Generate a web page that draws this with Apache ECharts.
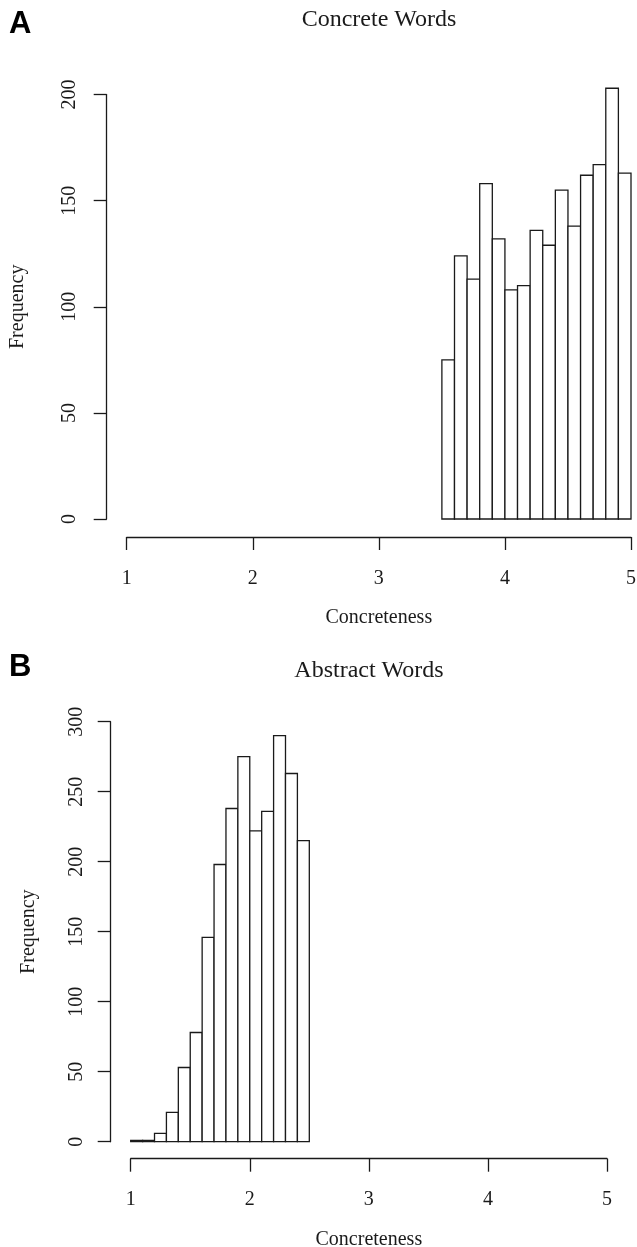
<!DOCTYPE html>
<html>
<head>
<meta charset="utf-8">
<title>Concreteness histograms</title>
<script src="https://cdn.jsdelivr.net/npm/echarts@6/dist/echarts.min.js"></script>
<style>
  html, body { margin: 0; padding: 0; background: #fff; }
  #chart { width: 637px; height: 1247px; }
</style>
</head>
<body>
<div id="chart"></div>
<script>
// Histogram bins (lower edges, width 0.1) and counts
const binWidth = 0.1;

const concreteBinStart = [3.5, 3.6, 3.7, 3.8, 3.9, 4.0, 4.1, 4.2, 4.3, 4.4, 4.5, 4.6, 4.7, 4.8, 4.9];
const concreteCounts   = [75, 124, 113, 158, 132, 108, 110, 136, 129, 155, 138, 162, 167, 203, 163];

const abstractBinStart = [1.0, 1.1, 1.2, 1.3, 1.4, 1.5, 1.6, 1.7, 1.8, 1.9, 2.0, 2.1, 2.2, 2.3, 2.4];
const abstractCounts   = [1, 1, 6, 21, 53, 78, 146, 198, 238, 275, 222, 236, 290, 263, 215];

// Axis tick settings
const xTicks = [1, 2, 3, 4, 5];
const concreteYMax = 200, concreteYStep = 50;
const abstractYMax = 300, abstractYStep = 50;

const panelTitles = ['Concrete Words', 'Abstract Words'];
const panelLetters = ['A', 'B'];
const xTitle = 'Concreteness';
const yTitle = 'Frequency';

const serif = 'Liberation Serif';
const ink = '#1a1a1a';

function binsToData(starts, counts) {
  return starts.map((s, i) => [s, +(s + binWidth).toFixed(2), counts[i]]);
}

function renderBin(params, api) {
  const lo = api.coord([api.value(0), api.value(2)]);
  const hi = api.coord([api.value(1), 0]);
  return {
    type: 'rect',
    shape: { x: lo[0], y: lo[1], width: hi[0] - lo[0], height: hi[1] - lo[1] },
    style: { fill: '#fff', stroke: ink, lineWidth: 1.3 }
  };
}

function xAxisFor(gridIndex, offset, labelMargin, nameGap) {
  return {
    gridIndex: gridIndex,
    type: 'value',
    min: xTicks[0],
    max: xTicks[xTicks.length - 1],
    interval: 1,
    position: 'bottom',
    offset: offset,
    name: xTitle,
    nameLocation: 'middle',
    nameGap: nameGap,
    nameTextStyle: { fontFamily: serif, fontSize: 20, color: ink },
    axisLine: { show: true, onZero: false, lineStyle: { color: ink, width: 1.3 } },
    axisTick: { show: true, length: 13, lineStyle: { color: ink, width: 1.3 } },
    axisLabel: { margin: labelMargin, fontFamily: serif, fontSize: 20, color: ink },
    splitLine: { show: false }
  };
}

function yAxisFor(gridIndex, max, step, offset, labelMargin, nameGap) {
  return {
    gridIndex: gridIndex,
    type: 'value',
    min: 0,
    max: max,
    interval: step,
    position: 'left',
    offset: offset,
    name: yTitle,
    nameLocation: 'middle',
    nameRotate: 90,
    nameGap: nameGap,
    nameTextStyle: { fontFamily: serif, fontSize: 20, color: ink },
    axisLine: { show: true, lineStyle: { color: ink, width: 1.3 } },
    axisTick: { show: true, length: 13, lineStyle: { color: ink, width: 1.3 } },
    axisLabel: { rotate: 90, margin: labelMargin, fontFamily: serif, fontSize: 20, color: ink },
    splitLine: { show: false }
  };
}

const chart = echarts.init(document.getElementById('chart'), null, { renderer: 'canvas' });

chart.setOption({
  backgroundColor: '#fff',
  animation: false,
  grid: [
    { left: 126.7, top: 94.6, width: 504.3, height: 424.4, outerBoundsMode: 'none', containLabel: false },
    { left: 130.7, top: 721.7, width: 476.3, height: 420.0, outerBoundsMode: 'none', containLabel: false }
  ],
  xAxis: [
    xAxisFor(0, 18, 32, 71),
    xAxisFor(1, 17, 31, 71)
  ],
  yAxis: [
    yAxisFor(0, concreteYMax, concreteYStep, 20, 27, 79),
    yAxisFor(1, abstractYMax, abstractYStep, 20, 24, 72)
  ],
  graphic: [
    { type: 'text', left: 9, top: 9,
      style: { text: panelLetters[0], font: 'bold 31px "Liberation Sans"', fill: '#000' } },
    { type: 'text', left: 9, top: 652,
      style: { text: panelLetters[1], font: 'bold 31px "Liberation Sans"', fill: '#000' } },
    { type: 'text', x: 379, y: 20,
      style: { text: panelTitles[0], font: '24px "Liberation Serif"', fill: ink,
               textAlign: 'center', textVerticalAlign: 'middle' } },
    { type: 'text', x: 369, y: 671,
      style: { text: panelTitles[1], font: '24px "Liberation Serif"', fill: ink,
               textAlign: 'center', textVerticalAlign: 'middle' } }
  ],
  series: [
    {
      type: 'custom',
      name: panelTitles[0],
      xAxisIndex: 0, yAxisIndex: 0,
      renderItem: renderBin,
      encode: { x: [0, 1], y: 2 },
      data: binsToData(concreteBinStart, concreteCounts)
    },
    {
      type: 'custom',
      name: panelTitles[1],
      xAxisIndex: 1, yAxisIndex: 1,
      renderItem: renderBin,
      encode: { x: [0, 1], y: 2 },
      data: binsToData(abstractBinStart, abstractCounts)
    }
  ]
});
</script>
</body>
</html>
